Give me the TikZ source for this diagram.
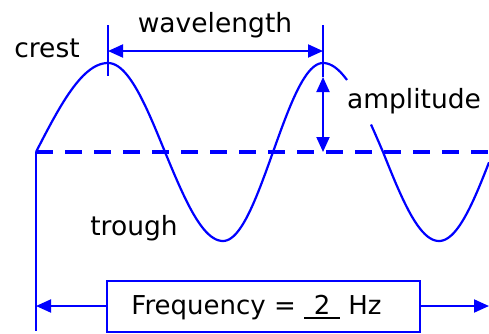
\documentclass[tikz,border=0pt]{standalone}
\usepackage{fontspec}
\setmainfont{DejaVu Sans}
\usetikzlibrary{arrows.meta}
\definecolor{wblue}{RGB}{0,0,255}
\newcommand{\ulnum}[1]{\rlap{\rule[-5pt]{36pt}{2.2pt}}\makebox[36pt]{#1}}
\tikzset{
  wave/.style={wblue, line width=2.2pt},
  axisline/.style={wblue, line width=4pt, dash pattern=on 17pt off 12pt},
  guide/.style={wblue, line width=2pt},
  dim/.style={wblue, line width=2pt, {Triangle[length=15pt,width=13pt]}-{Triangle[length=15pt,width=13pt]}},
  dimr/.style={wblue, line width=2pt, -{Triangle[length=15pt,width=13pt]}},
  lbl/.style={font=\fontsize{26.5}{30}\selectfont, anchor=base, inner sep=0pt},
  fbox/.style={draw=wblue, line width=2pt, minimum width=313pt, minimum height=51pt, inner sep=0pt}
}
\begin{document}
\begin{tikzpicture}[x=1pt,y=-1pt]
\useasboundingbox (0,0) rectangle (489,333);
% coordinates
\coordinate (o) at (36,152);
\coordinate (obot) at (36,331);
\coordinate (axr) at (489,152);
\coordinate (c1top) at (108,25);
\coordinate (c1bot) at (108,76);
\coordinate (c2top) at (323,25);
\coordinate (c2bot) at (323,77);
\coordinate (wl1) at (108,51);
\coordinate (wl2) at (323,51);
\coordinate (amptop) at (323,77);
\coordinate (ampbot) at (323,152);
\coordinate (fl) at (36,306);
\coordinate (fr) at (489,306);
% wave: piecewise quarter sines through the reference's crests, crossings and troughs
\draw[wave] plot[domain=36:108, samples=30, smooth] (\x,{152-89*sin((\x-36)/72*90)})
  -- plot[domain=108:165, samples=25, smooth] (\x,{152-89*sin(90+(\x-108)/57*90)})
  -- plot[domain=165:223, samples=25, smooth] (\x,{152-89*sin(180+(\x-165)/58*90)})
  -- plot[domain=223:273, samples=25, smooth] (\x,{152-89*sin(270+(\x-223)/50*90)})
  -- plot[domain=273:323, samples=25, smooth] (\x,{152-89*sin((\x-273)/50*90)})
  -- plot[domain=323:347, samples=12, smooth] (\x,{152-89*sin(90+(\x-323)/60*90)});
\draw[wave] plot[domain=371:383, samples=6, smooth] (\x,{152-89*sin(90+(\x-323)/60*90)})
  -- plot[domain=383:439, samples=25, smooth] (\x,{152-89*sin(180+(\x-383)/56*90)})
  -- plot[domain=439:489, samples=25, smooth] (\x,{152-89*sin(270+(\x-439)/54*90)});
% axis and left line
\draw[axisline] (o) -- (axr);
\draw[guide] (o) -- (obot);
% crest ticks
\draw[guide] (c1top) -- (c1bot);
\draw[guide] (c2top) -- (c2bot);
% dimension arrows
\draw[dim] (wl1) -- (wl2);
\draw[dim] (amptop) -- (ampbot);
% labels
\node[lbl] (crest) at (47,57) {crest};
\node[lbl] (wavelength) at (215,32) {wavelength};
\node[lbl] (amplitude) at (414,108) {amplitude};
\node[lbl] (trough) at (134,235) {trough};
% frequency box
\node[fbox] (freqbox) at (263.5,306) {};
\node[lbl, font=\fontsize{26}{30}\selectfont] (freqtext) at (256.5,314) {Frequency = \ulnum{2} Hz};
\draw[dimr] (freqbox.west) -- (fl);
\draw[dimr] (freqbox.east) -- (fr);
\end{tikzpicture}
\end{document}
